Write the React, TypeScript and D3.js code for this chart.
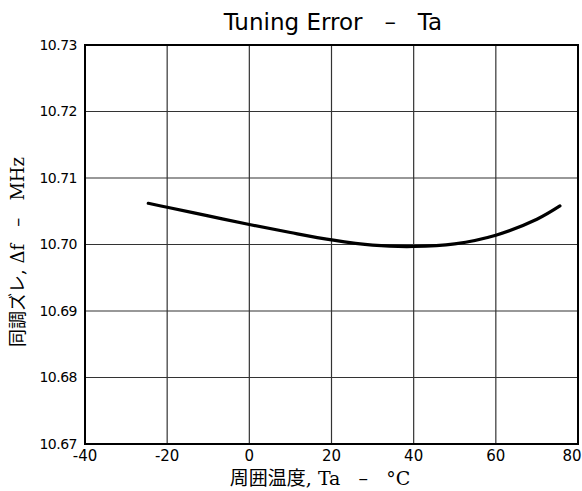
import React from "react";
import * as d3 from "d3";

const temps = [-24.6, -20, -10, 0, 10, 20, 30, 40, 50, 60, 70, 75.6];
const freqs = [10.7062, 10.7056, 10.7043, 10.703, 10.7018, 10.7007, 10.6999, 10.6997, 10.7001, 10.7014, 10.7038, 10.7058];
const xTicks = [-40, -20, 0, 20, 40, 60, 80];
const yTicks = [10.67, 10.68, 10.69, 10.7, 10.71, 10.72, 10.73];

const W = 582, H = 491;
const L = 85, R = 578, T = 45, B = 444;

export default function App() {
  const x = d3.scaleLinear().domain([-40, 80]).range([L, R]);
  const y = d3.scaleLinear().domain([10.67, 10.73]).range([B, T]);
  const pts = temps.map((t, i) => [t, freqs[i]] as [number, number]);
  const line = d3.line<[number, number]>().x(d => x(d[0])).y(d => y(d[1])).curve(d3.curveCatmullRom.alpha(0.5));
  const sans = "'DejaVu Sans', 'Noto Sans', sans-serif";
  const serif = "'DejaVu Serif', 'Liberation Serif', 'Noto Sans CJK JP', serif";
  return (
    <svg width={W} height={H} style={{ position: "absolute", left: 0, top: 0, background: "#fff" }}>
      <rect x={0} y={0} width={W} height={H} fill="#fff" />
      {xTicks.slice(1, -1).map(t => (
        <line key={"gx" + t} x1={x(t)} x2={x(t)} y1={T} y2={B} stroke="#333" strokeWidth={1.2} />
      ))}
      {yTicks.slice(1, -1).map(t => (
        <line key={"gy" + t} x1={L} x2={R} y1={y(t)} y2={y(t)} stroke="#333" strokeWidth={1.2} />
      ))}
      <rect x={L} y={T} width={R - L} height={B - T} fill="none" stroke="#000" strokeWidth={2} />
      <path d={line(pts) || ""} fill="none" stroke="#000" strokeWidth={3.2} strokeLinecap="round" />
      {yTicks.map(t => (
        <text key={"ly" + t} x={77} y={y(t)} dy="0.35em" textAnchor="end" fontFamily={sans} fontSize={14} letterSpacing={-0.5} fill="#000">
          {t.toFixed(2)}
        </text>
      ))}
      {xTicks.map(t => (
        <text key={"lx" + t} x={t === 80 ? x(t) - 6 : x(t)} y={456} dy="0.35em" textAnchor="middle" fontFamily={sans} fontSize={15} fill="#000">
          {t}
        </text>
      ))}
      <text x={333} y={30} textAnchor="middle" fontFamily={sans} fontSize={23} fill="#000" xmlSpace="preserve">
        Tuning Error   –   Ta
      </text>
      <text x={320} y={485} textAnchor="middle" fontFamily={serif} fontSize={19} fill="#000" xmlSpace="preserve">
        周囲温度, Ta   –   °C
      </text>
      <text transform={`translate(24, 252) rotate(-90)`} textAnchor="middle" fontFamily={serif} fontSize={18} fill="#000" xmlSpace="preserve">
        同調ズレ, Δf   –   MHz
      </text>
    </svg>
  );
}
